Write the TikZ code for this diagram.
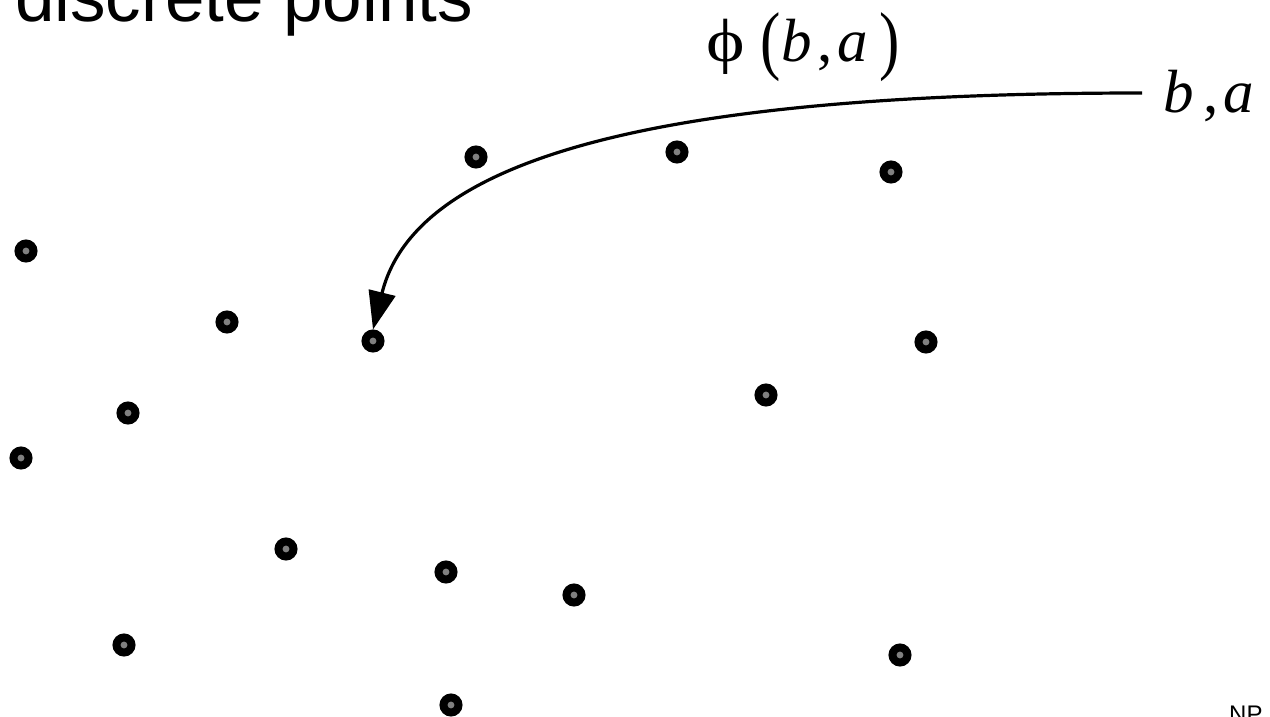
\documentclass[tikz,border=0pt]{standalone}
\usepackage{fontspec}
\setmainfont{Liberation Serif}
\newfontfamily\headfont{Liberation Sans}
\usetikzlibrary{arrows.meta}

\newcommand{\tallparen}[1]{\raisebox{-3.5pt}{\scalebox{1}[1.25]{#1}}}

\begin{document}
\begin{tikzpicture}[x=1pt, y=-1pt,
  pt/.style={circle, draw=black, fill=gray, line width=8pt,
             minimum size=15pt, inner sep=0pt},
  lbl/.style={inner sep=0pt, font=\fontsize{61}{61}\selectfont},
  map/.style={line width=3.2pt, -{Triangle[length=38pt, width=27pt]}}
]
\useasboundingbox (0,0) rectangle (1270,717);
\clip (0,0) rectangle (1270,717);

% Title and footer, both cut by the page edge
\node[font=\headfont\fontsize{71}{71}\selectfont, inner sep=0pt,
      anchor=base west] (title) at (15,22) {discrete points};
\node[font=\headfont\fontsize{24}{24}\selectfont, inner sep=0pt,
      anchor=base west] (foot) at (1229,722) {NP};

% Scattered points
\node[pt] (p1)  at (476,157) {};
\node[pt] (p2)  at (677,152) {};
\node[pt] (p3)  at (891,172) {};
\node[pt] (p4)  at (26,251)  {};
\node[pt] (p5)  at (227,322) {};
\node[pt] (p6)  at (373,341) {};
\node[pt] (p7)  at (926,342) {};
\node[pt] (p8)  at (766,395) {};
\node[pt] (p9)  at (128,413) {};
\node[pt] (p10) at (21,458)  {};
\node[pt] (p11) at (286,549) {};
\node[pt] (p12) at (446,572) {};
\node[pt] (p13) at (574,595) {};
\node[pt] (p14) at (124,645) {};
\node[pt] (p15) at (900,655) {};
\node[pt] (p16) at (451,705) {};

% Argument and its image
\node[lbl, anchor=base west] (ba) at (1163,112)
  {\textit{b}\hspace{10pt},\hspace{5pt}\textit{a}};
\node[lbl, anchor=base west] (phi) at (706,62)
  {\scalebox{1.2}[1]{ϕ}\hspace{16pt}\tallparen{(}\hspace{0pt}%
   \textit{b}\hspace{6pt},\hspace{5pt}\textit{a}\hspace{11pt}\tallparen{)}};

% Mapping arrow
\draw[map] (1142,93) .. controls (650,93) and (415,160) .. (p6.north);
\end{tikzpicture}
\end{document}
